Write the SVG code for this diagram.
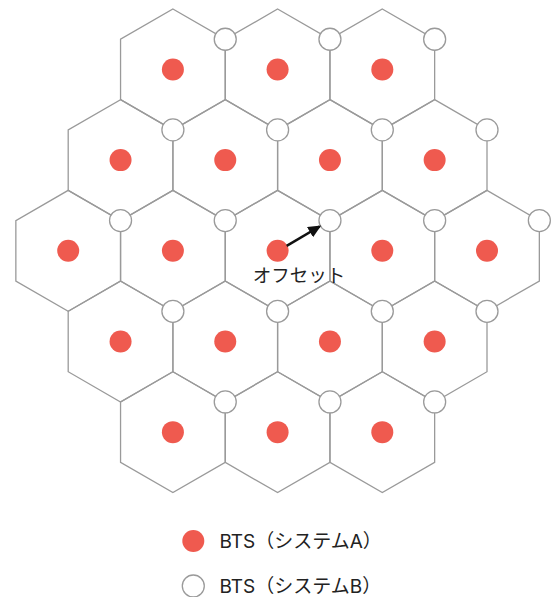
<svg xmlns="http://www.w3.org/2000/svg" width="552" height="597" viewBox="0 0 552 597">
<style>
.hex{fill:none;stroke:#9a9a9a;stroke-width:1.3}
.a{fill:#EF5A4F}
.b{fill:#fff;stroke:#9a9a9a;stroke-width:1.3}
.t{font-family:Inter,"Noto Sans CJK JP","Noto Sans",sans-serif;fill:#222}
</style>
<defs>
<polygon id="hx" class="hex" points="0,-60.45 52.35,-30.22 52.35,30.22 0,60.45 -52.35,30.22 -52.35,-30.22"/>
<marker id="ah" markerWidth="13" markerHeight="12" refX="11" refY="6" orient="auto" markerUnits="userSpaceOnUse"><path d="M0,0 L13,6 L0,12 Z" fill="#111"/></marker>
</defs>
<g id="cells">
<use href="#hx" x="172.9" y="69.45"/><use href="#hx" x="277.6" y="69.45"/><use href="#hx" x="382.3" y="69.45"/>
<use href="#hx" x="120.55" y="160.1"/><use href="#hx" x="225.25" y="160.1"/><use href="#hx" x="329.95" y="160.1"/><use href="#hx" x="434.65" y="160.1"/>
<use href="#hx" x="68.2" y="250.8"/><use href="#hx" x="172.9" y="250.8"/><use href="#hx" x="277.6" y="250.8"/><use href="#hx" x="382.3" y="250.8"/><use href="#hx" x="487" y="250.8"/>
<use href="#hx" x="120.55" y="341.5"/><use href="#hx" x="225.25" y="341.5"/><use href="#hx" x="329.95" y="341.5"/><use href="#hx" x="434.65" y="341.5"/>
<use href="#hx" x="172.9" y="432.15"/><use href="#hx" x="277.6" y="432.15"/><use href="#hx" x="382.3" y="432.15"/>
</g>
<g id="systemA">
<circle class="a" r="11" cx="172.9" cy="69.45"/><circle class="a" r="11" cx="277.6" cy="69.45"/><circle class="a" r="11" cx="382.3" cy="69.45"/>
<circle class="a" r="11" cx="120.55" cy="160.1"/><circle class="a" r="11" cx="225.25" cy="160.1"/><circle class="a" r="11" cx="329.95" cy="160.1"/><circle class="a" r="11" cx="434.65" cy="160.1"/>
<circle class="a" r="11" cx="68.2" cy="250.8"/><circle class="a" r="11" cx="172.9" cy="250.8"/><circle class="a" r="11" cx="277.6" cy="250.8"/><circle class="a" r="11" cx="382.3" cy="250.8"/><circle class="a" r="11" cx="487" cy="250.8"/>
<circle class="a" r="11" cx="120.55" cy="341.5"/><circle class="a" r="11" cx="225.25" cy="341.5"/><circle class="a" r="11" cx="329.95" cy="341.5"/><circle class="a" r="11" cx="434.65" cy="341.5"/>
<circle class="a" r="11" cx="172.9" cy="432.15"/><circle class="a" r="11" cx="277.6" cy="432.15"/><circle class="a" r="11" cx="382.3" cy="432.15"/>
</g>
<g id="systemB">
<circle class="b" r="11" cx="225.25" cy="39.23"/><circle class="b" r="11" cx="329.95" cy="39.23"/><circle class="b" r="11" cx="434.65" cy="39.23"/>
<circle class="b" r="11" cx="172.9" cy="129.88"/><circle class="b" r="11" cx="277.6" cy="129.88"/><circle class="b" r="11" cx="382.3" cy="129.88"/><circle class="b" r="11" cx="487" cy="129.88"/>
<circle class="b" r="11" cx="120.55" cy="220.58"/><circle class="b" r="11" cx="225.25" cy="220.58"/><circle class="b" r="11" cx="329.95" cy="220.58"/><circle class="b" r="11" cx="434.65" cy="220.58"/><circle class="b" r="11" cx="539.35" cy="220.58"/>
<circle class="b" r="11" cx="172.9" cy="311.28"/><circle class="b" r="11" cx="277.6" cy="311.28"/><circle class="b" r="11" cx="382.3" cy="311.28"/><circle class="b" r="11" cx="487" cy="311.28"/>
<circle class="b" r="11" cx="225.25" cy="401.93"/><circle class="b" r="11" cx="329.95" cy="401.93"/><circle class="b" r="11" cx="434.65" cy="401.93"/>
</g>
<g id="connectors">
<line x1="286.7" y1="245.8" x2="319.5" y2="226.5" stroke="#111" stroke-width="2.6" marker-end="url(#ah)"/>
</g>
<g id="offset-label">
<text class="t" x="299" y="281.5" font-size="18.5" text-anchor="middle">オフセット</text>
</g>
<g id="legend">
<circle class="a" r="11" cx="193.3" cy="541"/>
<text class="t" x="219.5" y="548.3" font-size="19">BTS（システムA）</text>
<circle class="b" r="11" cx="193.3" cy="586"/>
<text class="t" x="219.5" y="592.8" font-size="19">BTS（システムB）</text>
</g>
</svg>
